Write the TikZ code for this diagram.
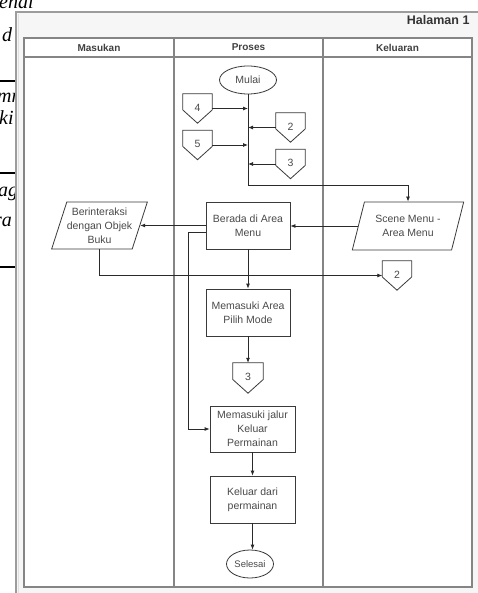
\documentclass[tikz,border=0pt]{standalone}
\usepackage{fontspec}
\setmainfont{Liberation Sans}
\newfontfamily\pageserif{Liberation Serif}
\usetikzlibrary{shapes.geometric, arrows.meta, calc}

\definecolor{txt}{HTML}{4A4A4A}
\definecolor{boxc}{HTML}{3A3A3A}
\definecolor{linec}{HTML}{2A2A2A}
\definecolor{lanec}{HTML}{858585}
\definecolor{framec}{HTML}{9C9C9C}
\definecolor{framebg}{HTML}{F6F6F6}

% off-page connector: pentagon pointing down, drawn round a named node
\newcommand{\drawoffpage}[1]{%
  \draw[boxc, line width=0.8pt]
    (#1.north west) -- (#1.north east)
    -- ($(#1.north east)!0.55!(#1.south east)$) -- (#1.south)
    -- ($(#1.north west)!0.55!(#1.south west)$) -- cycle;}
% page number inside an off-page connector, set a little high
\newcommand{\opnum}[1]{\raisebox{2pt}{#1}}

\begin{document}
\begin{tikzpicture}[x=1pt, y=-1pt,
  every node/.style={text=txt, font=\fontsize{10.5}{14}\selectfont},
  proc/.style={draw=boxc, line width=0.8pt, fill=white, align=center,
    minimum width=84pt, minimum height=47pt, inner sep=1pt},
  term/.style={ellipse, draw=boxc, line width=0.8pt, fill=white,
    minimum width=57pt, minimum height=28pt, inner sep=0pt},
  io/.style={trapezium, trapezium stretches=true, draw=boxc, line width=0.8pt,
    fill=white, align=center, inner sep=0pt,
    trapezium left angle=67, trapezium right angle=113},
  offpage/.style={minimum width=29pt, minimum height=29pt, inner sep=0pt},
  lanehead/.style={font=\bfseries\fontsize{10}{12}\selectfont, text=black!75},
  pagetext/.style={anchor=base west, inner sep=0pt, text=black,
    font=\pageserif\itshape\fontsize{20}{24}\selectfont},
  flow/.style={draw=linec, line width=0.8pt, -{Latex[length=5pt,width=4pt]}},
  plain/.style={draw=linec, line width=0.8pt}
]
\useasboundingbox (0,0) rectangle (478,593);
\clip (0,0) rectangle (478,593);

% text of the page behind the figure
\node[pagetext] (p1) at (-1,9) {enal};
\node[pagetext] (p2) at (2,42) {d};
\node[pagetext] (p3) at (-3,103) {mn};
\node[pagetext] (p4) at (-1,125) {ki};
\node[pagetext] (p5) at (-2,197) {ag};
\node[pagetext] (p6) at (-6,227) {ra};
\foreach \yy in {81,173,267}
  \draw[black, line width=1.4pt] (0,\yy) -- (16,\yy);

% figure frame
\draw[framec, fill=framebg, line width=1.2pt] (16,12) rectangle (500,610);
\draw[black!12, line width=0.8pt] (18.5,14.5) -- (18.5,600);
\node[anchor=east, font=\bfseries\fontsize{12.5}{14}\selectfont, text=black!80]
  (page) at (473,20) {Halaman 1};

% swimlane table
\draw[lanec, fill=white, line width=1.1pt] (24,38) rectangle (472,587);
\draw[lanec, line width=1.1pt] (24,57) -- (472,57);
\draw[lanec, line width=1.1pt] (174,38) -- (174,587);
\draw[lanec, line width=1.1pt] (323,38) -- (323,587);
\node[lanehead] (h1) at (99,47.5) {Masukan};
\node[lanehead] (h2) at (248.5,47.5) {Proses};
\node[lanehead] (h3) at (397.5,47.5) {Keluaran};

% flowchart nodes
\node[term] (mulai) at (248,80) {Mulai};
\node[offpage] (c4) at (197.5,108.5) {\opnum{4}};
\node[offpage] (c5) at (197.5,145) {\opnum{5}};
\node[offpage] (c2a) at (290.5,127.5) {\opnum{2}};
\node[offpage] (c3a) at (290.5,164) {\opnum{3}};
\coordinate (j0) at (248,185);

\node[io, minimum width=112pt, minimum height=48pt] (scene) at (408,226)
  {Scene Menu -\\Area Menu};
\node[proc] (berada) at (248,225.5) {Berada di Area\\Menu};
\node[io, minimum width=95pt, minimum height=47pt] (inter) at (99.5,225.5)
  {Berinteraksi\\dengan Objek\\Buku};
\node[offpage] (c2b) at (397,275.5) {\opnum{2}};
\node[proc] (pilih) at (248,312.5) {Memasuki Area\\Pilih Mode};
\node[offpage, minimum width=30pt, minimum height=30pt] (c3b) at (248,378) {\opnum{3}};
\node[proc, minimum width=85pt, minimum height=46pt] (jalur) at (252.5,429)
  {Memasuki jalur\\Keluar\\Permainan};
\node[proc, minimum width=85pt] (keluar) at (252.5,499.5) {Keluar dari\\permainan};
\node[term, minimum width=47pt, minimum height=28pt,
  font=\fontsize{9.5}{12}\selectfont] (selesai) at (250,564) {Selesai};
\coordinate (j1) at (188,232.5);

% off-page connector outlines
\foreach \n in {c4,c5,c2a,c3a,c2b,c3b} {\drawoffpage{\n}}

% connectors
\draw[plain] (mulai.south) -- (j0);
\draw[flow] (j0) -| (scene.north);
\draw[flow] (c4.east) -- (c4.east -| mulai.south);
\draw[flow] (c5.east) -- (c5.east -| mulai.south);
\draw[flow] (c2a.west) -- (c2a.west -| mulai.south);
\draw[flow] (c3a.west) -- (c3a.west -| mulai.south);
\draw[flow] (scene.west) -- (scene.west -| berada.east);
\draw[flow] (berada.west) -- (berada.west -| inter.east);
\draw[flow] (inter.south) |- (c2b.west);
\draw[flow] ([yshift=-7pt]berada.west) -- (j1) |- (jalur.west);
\draw[flow] (berada.south) -- (pilih.north);
\draw[flow] (pilih.south) -- (c3b.north);
\draw[flow] (jalur.south) -- (keluar.north);
\draw[flow] (keluar.south) -- (keluar.south |- selesai.north);
\end{tikzpicture}
\end{document}
